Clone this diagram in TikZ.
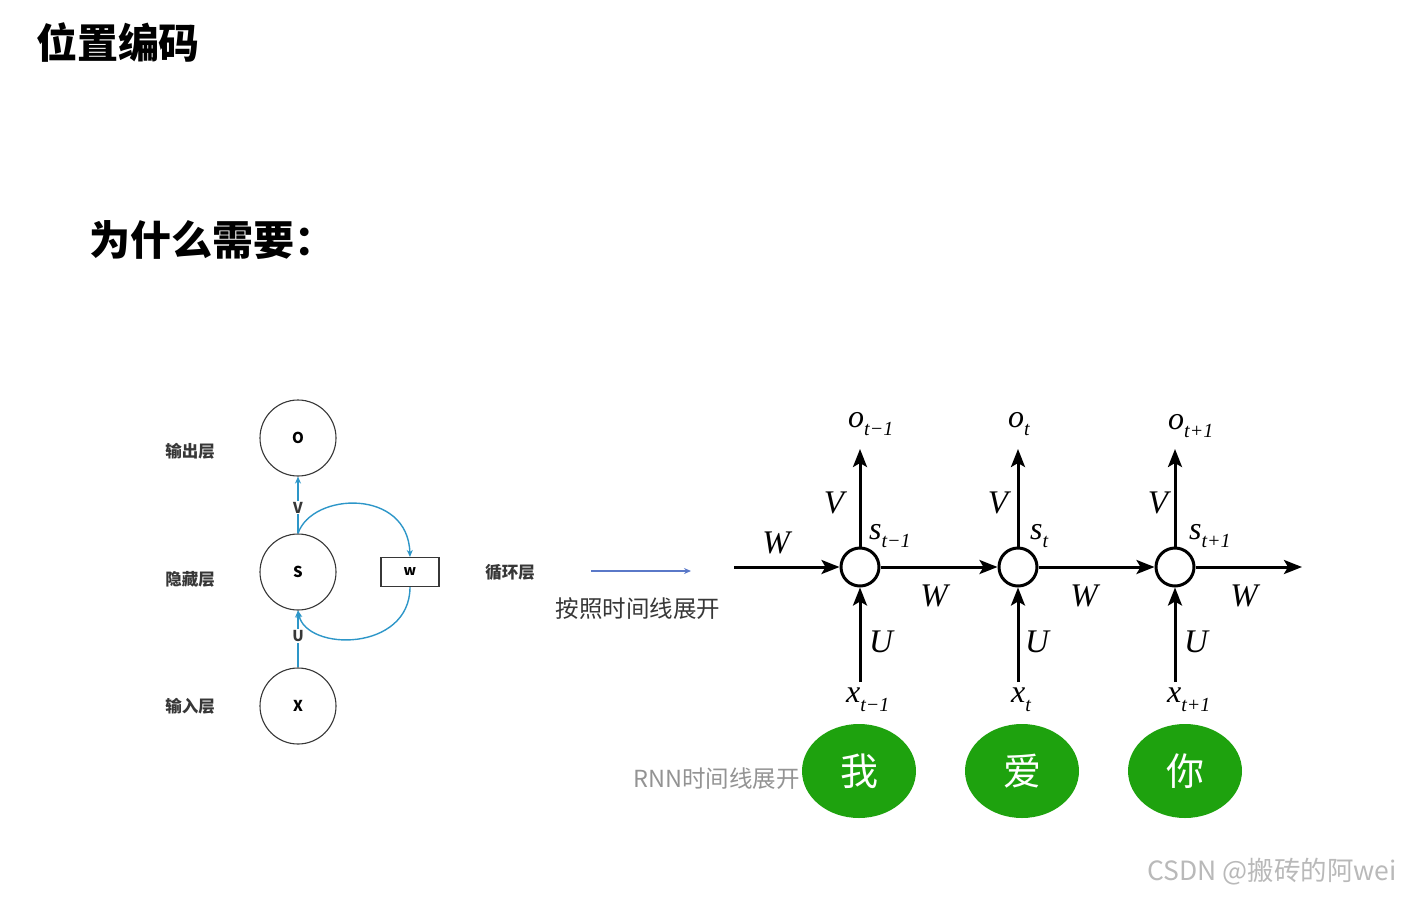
\documentclass[tikz,border=0pt]{standalone}
\usepackage{fontspec}
\setmainfont{Liberation Serif}
\newfontfamily\cjk{Noto Sans CJK SC}
\usetikzlibrary{arrows.meta,shapes.geometric}
\definecolor{rnnblue}{RGB}{45,150,200}
\definecolor{arrowblue}{RGB}{90,120,200}
\definecolor{wgreen}{RGB}{30,162,14}
\definecolor{labgray}{RGB}{55,55,55}
\newcommand{\fs}[1]{\fontsize{#1}{#1}\selectfont}
\newcommand{\msub}[2]{{\itshape #1}\raisebox{-0.6ex}{\fs{20}\itshape #2}}
\tikzset{
  lcirc/.style={circle,draw=labgray,line width=1.1pt,minimum size=76pt,inner sep=0pt,font=\cjk\bfseries\fs{15}},
  llab/.style={font=\cjk\bfseries\fs{16.5},text=labgray},
  barrow/.style={draw=rnnblue,line width=1.4pt,-{Stealth[length=7pt,width=6pt]}},
  rcirc/.style={circle,draw=black,line width=3pt,minimum size=38pt,inner sep=0pt},
  rarrow/.style={draw=black,line width=3pt,-{Stealth[length=18pt,width=14pt,inset=4pt]}},
  mlab/.style={font=\fs{33}\itshape,inner sep=0pt},
  slab/.style={font=\fs{32},inner sep=0pt,anchor=west},
  gcirc/.style={ellipse,fill=wgreen,minimum width=114pt,minimum height=94pt,inner sep=0pt,text=white,font=\cjk\fs{38}},
}
\begin{document}
\begin{tikzpicture}[x=1pt,y=-1pt]
\useasboundingbox (0,0) rectangle (1401,898);
% titles
\node[font=\cjk\bfseries\fs{41}] (title) at (118,43) {位置编码};
\node[font=\cjk\bfseries\fs{41}] (why) at (212,240) {为什么需要：};
% left diagram
\node[lcirc] (O) at (298,438) {O};
\node[lcirc] (S) at (298,572) {S};
\node[lcirc] (X) at (298,706) {X};
\node[draw=labgray,line width=1.1pt,minimum width=58pt,minimum height=29pt,inner sep=0pt,font=\cjk\bfseries\fs{14}] (w) at (410,572) {w};
\node[llab] (lo) at (190,451) {输出层};
\node[llab] (ls) at (190,579) {隐藏层};
\node[llab] (lx) at (190,706) {输入层};
\node[llab] (lw) at (510,572) {循环层};
\draw[barrow] (S.north) -- (O.south) node[pos=0.45,fill=white,inner sep=1pt,font=\cjk\bfseries\fs{15},text=labgray] (vl) {V};
\draw[barrow] (X.north) -- (S.south) node[pos=0.55,fill=white,inner sep=1pt,font=\cjk\bfseries\fs{15},text=labgray] (ul) {U};
\draw[barrow] (S.north) .. controls (312,492) and (408,488) .. (w.north);
\draw[barrow] (w.south) .. controls (410,652) and (306,652) .. (S.south);
% unfold arrow
\coordinate (ua) at (591,571);
\coordinate (ub) at (691,571);
\draw[draw=arrowblue,line width=1.1pt,-{Stealth[length=7pt,width=6pt]}] (ua) -- (ub);
\node[font=\cjk\fs{23.5},text=labgray] (unf) at (638,609) {按照时间线展开};
% right diagram
\foreach \n/\x in {a/860,b/1018,c/1175}{
  \node[rcirc] (c\n) at (\x,567) {};
  \coordinate (top\n) at (\x,449);
  \coordinate (bot\n) at (\x,682);
  \draw[rarrow] (c\n.north) -- (top\n);
  \draw[rarrow] (bot\n) -- (c\n.south);
}
\coordinate (in) at (734,567);
\coordinate (out) at (1302,567);
\draw[rarrow] (in) -- (ca.west);
\draw[rarrow] (ca.east) -- (cb.west);
\draw[rarrow] (cb.east) -- (cc.west);
\draw[rarrow] (cc.east) -- (out);
\node[mlab] (w0) at (776,543) {W};
\node[mlab] (w1) at (934,596) {W};
\node[mlab] (w2) at (1084,596) {W};
\node[mlab] (w3) at (1244,596) {W};
\node[mlab] (v1) at (834,503) {V};
\node[mlab] (v2) at (998,503) {V};
\node[mlab] (v3) at (1158,503) {V};
\node[mlab] (u1) at (881,642) {U};
\node[mlab] (u2) at (1037,642) {U};
\node[mlab] (u3) at (1196,642) {U};
\node[slab] (o1) at (848,424) {\msub{o}{t−1}};
\node[slab] (o2) at (1008,424) {\msub{o}{t}};
\node[slab] (o3) at (1168,426) {\msub{o}{t+1}};
\node[slab] (s1) at (869,536) {\msub{s}{t−1}};
\node[slab] (s2) at (1030,536) {\msub{s}{t}};
\node[slab] (s3) at (1189,536) {\msub{s}{t+1}};
\node[slab] (x1) at (846,700) {\msub{x}{t−1}};
\node[slab] (x2) at (1011,700) {\msub{x}{t}};
\node[slab] (x3) at (1167,700) {\msub{x}{t+1}};
% words
\node[font=\cjk\fs{23.5},text=gray!85,anchor=west] (rnn) at (630,779) {RNN时间线展开};
\node[gcirc] (g1) at (859,771) {我};
\node[gcirc] (g2) at (1022,771) {爱};
\node[gcirc] (g3) at (1185,771) {你};
% watermark
\node[font=\cjk\fs{26.5},text=gray!55] (wm) at (1272,872) {CSDN @搬砖的阿wei};
\end{tikzpicture}
\end{document}
